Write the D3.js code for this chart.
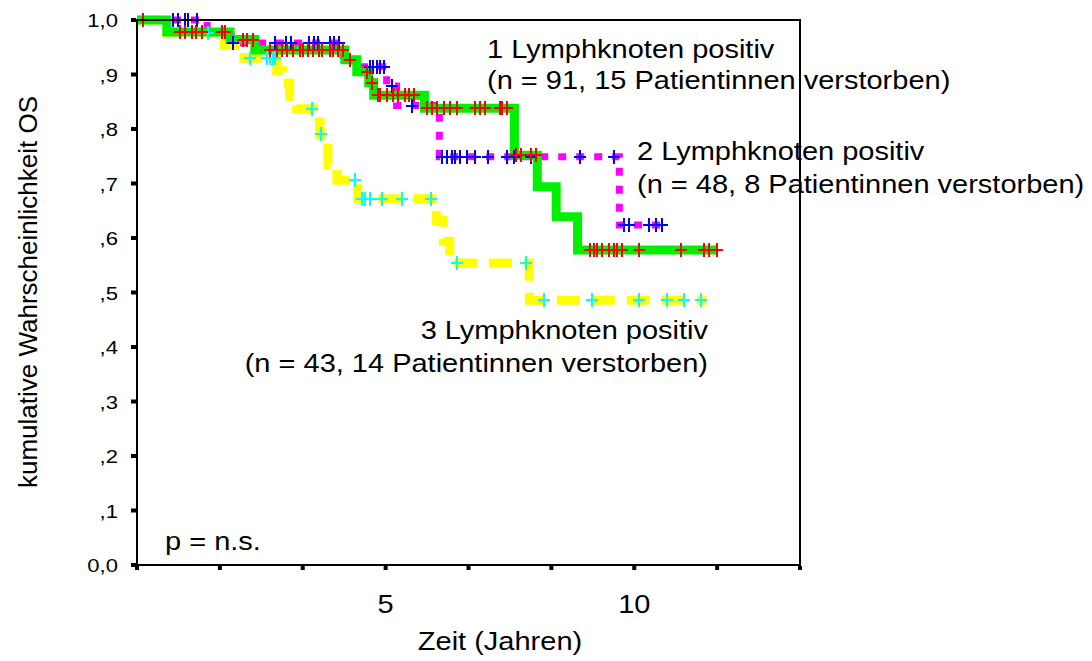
<!DOCTYPE html>
<meta charset="utf-8">
<style>
 body { margin: 0; background: white; }
 svg { display: block; }
 text { font-family: 'Liberation Sans', Arial, sans-serif; fill: #000; }
</style>
<svg width="1092" height="661"></svg>
<script src="https://d3js.org/d3.v7.min.js"></script>
<script>
 // axis ticks (years / cumulative survival)
 var xTicks = [0, 1.667, 3.333, 5, 6.667, 8.333, 10, 11.667, 13.333];
 var xLabels = ['', '', '', '5', '', '', '10', '', ''];
 var yTicks = [0, 0.1, 0.2, 0.3, 0.4, 0.5, 0.6, 0.7, 0.8, 0.9, 1.0];
 var yLabels = ['0,0', ',1', ',2', ',3', ',4', ',5', ',6', ',7', ',8', ',9', '1,0'];

 // 1 Lymphknoten positiv: step times, survival after each step, censored times
 var g1Times = [0, 0.60, 1.87, 2.37, 4.18, 4.42, 4.66, 4.76, 5.78, 7.59, 8.05, 8.43, 8.86];
 var g1Surv  = [1, 0.978, 0.964, 0.945, 0.927, 0.905, 0.885, 0.862, 0.838, 0.752, 0.694, 0.639, 0.578];
 var g1End = 11.65;
 var g1Cens = [0.12, 0.86, 0.96, 1.10, 1.18, 1.31, 1.71, 1.77, 2.13, 2.21, 2.33, 2.67, 2.81, 2.91, 3.01,
               3.13, 3.27, 3.33, 3.43, 3.53, 3.67, 3.73, 3.88, 3.94, 4.04, 4.14, 4.28, 4.62, 4.72, 4.84,
               4.88, 5.02, 5.14, 5.24, 5.38, 5.48, 5.58, 5.84, 5.94, 6.04, 6.18, 6.29, 6.43, 6.79, 6.89,
               6.99, 7.29, 7.35, 7.45, 7.63, 7.73, 7.93, 8.03, 9.10, 9.20, 9.26, 9.36, 9.50, 9.60, 9.66,
               9.76, 10.10, 10.94, 11.41, 11.51, 11.67];

 // 2 Lymphknoten positiv
 var g2Times = [0, 1.41, 1.90, 4.14, 4.34, 5.02, 5.22, 6.08, 9.70];
 var g2Surv  = [1, 0.979, 0.958, 0.936, 0.914, 0.879, 0.843, 0.749, 0.624];
 var g2End = 10.64;
 var g2Cens = [0.72, 0.82, 0.96, 1.02, 1.20, 1.93, 2.77, 2.99, 3.09, 3.45, 3.55, 3.63, 3.88, 3.96, 4.06,
               4.68, 4.74, 4.82, 4.88, 4.96, 5.12, 5.54, 6.14, 6.24, 6.33, 6.39, 6.49, 6.63, 6.79, 7.05,
               7.45, 7.59, 7.93, 8.90, 9.60, 9.80, 9.90, 10.30, 10.44, 10.56];

 // 3 Lymphknoten positiv
 var g3Times = [0, 0.60, 1.75, 2.15, 2.81, 2.93, 3.07, 3.21, 3.55, 3.68, 3.84, 4.02, 4.44, 6.02, 6.16, 6.29, 7.89];
 var g3Surv  = [1, 0.977, 0.953, 0.930, 0.907, 0.884, 0.860, 0.837, 0.813, 0.790, 0.735, 0.706, 0.672, 0.632, 0.594, 0.554, 0.486];
 var g3End = 11.45;
 var g3Cens = [1.43, 2.27, 2.61, 2.67, 2.73, 2.77, 3.51, 3.70, 4.38, 4.52, 4.58, 4.68, 4.92, 5.32, 5.92,
               6.43, 7.83, 8.19, 9.16, 10.10, 10.66, 11.00, 11.35];

 var svg = d3.select('svg');
 var x = d3.scaleLinear().domain([0, 13.333]).range([137, 800]);
 var y = d3.scaleLinear().domain([0, 1]).range([565, 20]);
 var sx = 1.16; // text in the source is a bit wider than Arial

 function stepPoints(times, surv, end) {
     var pts = times.map(function(t, i) { return [t, surv[i]]; });
     pts.push([end, surv[surv.length - 1]]);
     return pts;
 }
 function survAt(times, surv, t) {
     return surv[Math.max(0, d3.bisectRight(times, t) - 1)];
 }

 var groups = [
     {times: g3Times, surv: g3Surv, end: g3End, cens: g3Cens, line: '#ffff00', width: 9, dash: '23,12', mark: '#00ffff'},
     {times: g2Times, surv: g2Surv, end: g2End, cens: g2Cens, line: '#ff00ff', width: 7, dash: '8,10', mark: '#0000ff'},
     {times: g1Times, surv: g1Surv, end: g1End, cens: g1Cens, line: '#00f000', width: 9, dash: null, mark: '#ff0000'}
 ];

 var line = d3.line()
     .x(function(d) { return x(d[0]); })
     .y(function(d) { return y(d[1]); })
     .curve(d3.curveStepAfter);

 // survival lines
 groups.forEach(function(g) {
     svg.append('path')
         .attr('d', line(stepPoints(g.times, g.surv, g.end)))
         .attr('fill', 'none')
         .attr('stroke', g.line)
         .attr('stroke-width', g.width)
         .attr('stroke-dasharray', g.dash)
         .attr('stroke-linejoin', 'miter');
 });

 // censor marks
 groups.forEach(function(g) {
     var m = svg.append('g')
         .attr('stroke', g.mark)
         .attr('stroke-width', 2)
         .attr('shape-rendering', 'crispEdges');
     g.cens.forEach(function(t) {
         var cx = Math.round(x(t)), cy = Math.round(y(survAt(g.times, g.surv, t)));
         m.append('line').attr('x1', cx - 6).attr('x2', cx + 6).attr('y1', cy).attr('y2', cy);
         m.append('line').attr('x1', cx).attr('x2', cx).attr('y1', cy - 7).attr('y2', cy + 7);
     });
 });

 // frame
 svg.append('rect')
     .attr('x', x(0)).attr('y', y(1))
     .attr('width', x(13.333) - x(0)).attr('height', y(0) - y(1))
     .attr('fill', 'none').attr('stroke', '#000').attr('stroke-width', 2);

 // tick squares
 svg.selectAll('.yt').data(yTicks).enter().append('rect')
     .attr('x', x(0) - 6).attr('y', function(d) { return y(d) - 2; })
     .attr('width', 5).attr('height', 4).attr('fill', '#000');
 svg.selectAll('.xt').data(xTicks).enter().append('rect')
     .attr('x', function(d) { return x(d) - 2; }).attr('y', y(0) + 1)
     .attr('width', 4).attr('height', 4).attr('fill', '#000');

 function label(str, px, py, size, anchor) {
     return svg.append('text')
         .attr('transform', 'translate(' + px + ',' + py + ') scale(' + sx + ',1)')
         .attr('text-anchor', anchor || 'start')
         .style('font-size', size + 'px')
         .text(str);
 }

 yTicks.forEach(function(d, i) { label(yLabels[i], 118, y(d) + 7, 19, 'end'); });
 xTicks.forEach(function(d, i) { if (xLabels[i]) label(xLabels[i], x(d), 613, 25, 'middle'); });

 label('Zeit (Jahren)', 500, 650, 25, 'middle');
 svg.append('text')
     .attr('transform', 'translate(37,292) rotate(-90)')
     .attr('text-anchor', 'middle')
     .style('font-size', '26px')
     .text('kumulative Wahrscheinlichkeit OS');

 label('1 Lymphknoten positiv', 487, 58, 25);
 label('(n = 91, 15 Patientinnen verstorben)', 487, 89, 25);
 label('2 Lymphknoten positiv', 637, 160, 25);
 label('(n = 48, 8 Patientinnen verstorben)', 637, 193, 25);
 label('3 Lymphknoten positiv', 708, 339, 25, 'end');
 label('(n = 43, 14 Patientinnen verstorben)', 708, 372, 25, 'end');
 label('p = n.s.', 165, 550, 25);
</script>
